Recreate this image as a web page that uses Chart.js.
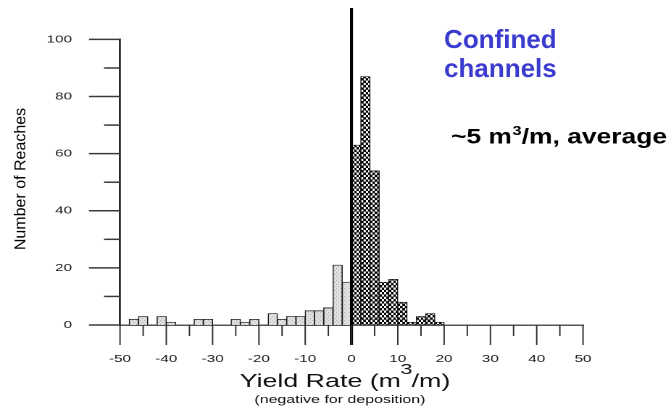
<!DOCTYPE html>
<html>
<head>
<meta charset="utf-8">
<script src="https://cdn.jsdelivr.net/npm/chart.js@4"></script>
<style>
html, body { margin: 0; padding: 0; background: #fff; overflow: hidden; }
#wrap { position: relative; width: 671px; height: 409px; overflow: hidden; }
#c { position: absolute; left: 0; top: 0; transform-origin: 0 0; transform: scaleX(1.449244); }
</style>
</head>
<body>
<div id="wrap"><canvas id="c" width="463" height="409"></canvas></div>
<script>
// ---- data ----
const binWidth = 2;                       // m3/m per histogram bin
const depositionBinStarts = [-48, -46, -42, -40, -34, -32, -26, -24, -22, -18, -16, -14, -12, -10, -8, -6, -4, -2];
const depositionCounts    = [  2,   3,   3,   1,   2,   2,   2,   1,   2,   4,   2,   3,   3,   5,  5,  6, 21, 15];
const yieldBinStarts      = [ 0,  2,  4,  6,  8, 10, 12, 14, 16, 18];
const yieldCounts         = [63, 87, 54, 15, 16,  8,  1,  3,  4,  1];
const xRange = [-50, 50];
const yRange = [0, 100];
const xTitleParts = ['Yield Rate (m', '3', '/m)'];
const xSubtitle = '(negative for deposition)';
const yTitle = 'Number of Reaches';
const noteTitle = ['Confined', 'channels'];
const noteAverage = ['~5 m', '3', '/m, average'];

// ---- rendering ----
const S = 671 / 463;        // horizontal stretch of the original figure
const FONT = '"Liberation Sans", Arial, Helvetica, sans-serif';
const canvas = document.getElementById('c');
const ctx0 = canvas.getContext('2d');

function makeHatch() {
  const c = document.createElement('canvas');
  c.width = 40; c.height = 40;
  const g = c.getContext('2d');
  g.fillStyle = '#000'; g.fillRect(0, 0, 40, 40);
  g.fillStyle = '#fff';
  g.fillRect(0.5, 0.5, 19, 19); g.fillRect(20.5, 20.5, 19, 19);
  const p = ctx0.createPattern(c, 'repeat');
  p.setTransform(new DOMMatrix([4.6 / S / 40, 0, 0, 4.6 / 40, 0, 0]));
  return p;
}
function makeStipple() {
  const c = document.createElement('canvas');
  c.width = 4; c.height = 4;
  const g = c.getContext('2d');
  g.fillStyle = '#e3e3e3'; g.fillRect(0, 0, 4, 4);
  g.fillStyle = '#9c9c9c'; g.fillRect(0, 0, 1, 1); g.fillRect(2, 2, 1, 1);
  const p = ctx0.createPattern(c, 'repeat');
  p.setTransform(new DOMMatrix([1 / S, 0, 0, 1, 0, 0]));
  return p;
}

const decor = {
  id: 'decor',
  afterDatasetsDraw(chart) {
    const ctx = chart.ctx, xs = chart.scales.x;
    const x0 = xs.getPixelForValue(0);
    ctx.save();
    ctx.strokeStyle = '#000';
    ctx.lineWidth = 3 / S;
    ctx.beginPath(); ctx.moveTo(x0, 8); ctx.lineTo(x0, 345); ctx.stroke();
    ctx.restore();
  },
  afterDraw(chart) {
    const ctx = chart.ctx, xs = chart.scales.x, ys = chart.scales.y;
    const area = chart.chartArea;
    ctx.save();
    // x tick marks
    ctx.strokeStyle = '#2e2e2e';
    ctx.lineWidth = 1.4 / S;
    xs.ticks.forEach(t => {
      const px = xs.getPixelForValue(t.value);
      const len = (t.value % 10 === 0) ? 20 : 11;
      ctx.beginPath(); ctx.moveTo(px, area.bottom); ctx.lineTo(px, area.bottom + len); ctx.stroke();
    });
    // y tick marks
    ctx.strokeStyle = '#3a3a3a';
    ctx.lineWidth = 1.5;
    ys.ticks.forEach(t => {
      const py = ys.getPixelForValue(t.value);
      const len = (t.value % 20 === 0) ? 31 / S : 16 / S;
      ctx.beginPath(); ctx.moveTo(area.left - len, py); ctx.lineTo(area.left, py); ctx.stroke();
    });
    // x axis title (stretched like the chart)
    ctx.fillStyle = '#111';
    ctx.textBaseline = 'alphabetic';
    ctx.textAlign = 'left';
    const bigF = '18.5px ' + FONT, supF = '15px ' + FONT;
    ctx.font = bigF; const wa = ctx.measureText(xTitleParts[0]).width, wc = ctx.measureText(xTitleParts[2]).width;
    ctx.font = supF; const wb = ctx.measureText(xTitleParts[1]).width;
    const cx = (area.left + area.right) / 2 - 5;
    let x = cx - (wa + wb + wc) / 2 + 1;
    ctx.font = bigF; ctx.fillText(xTitleParts[0], x, 387); x += wa - 0.5;
    ctx.font = supF; ctx.fillText(xTitleParts[1], x, 374); x += wb - 0.5;
    ctx.font = bigF; ctx.fillText(xTitleParts[2], x, 387);
    ctx.font = '11px ' + FONT;
    ctx.textAlign = 'center';
    ctx.fillText(xSubtitle, cx - 3, 403);

    // texts not stretched like the chart body
    ctx.scale(1 / S, 1);
    ctx.textAlign = 'left';
    ctx.fillStyle = '#3b3bcf';
    ctx.font = 'bold 26px ' + FONT;
    ctx.fillText(noteTitle[0], 444, 48);
    ctx.fillText(noteTitle[1], 444, 77);
    // average note: slightly widened text
    ctx.save();
    ctx.fillStyle = '#000';
    const nF = 'bold 21px ' + FONT, nS = 'bold 13px ' + FONT;
    ctx.font = nF;
    const w0 = ctx.measureText(noteAverage[0]).width, w2 = ctx.measureText(noteAverage[2]).width;
    ctx.font = nS;
    const w1 = ctx.measureText(noteAverage[1]).width;
    const k = 216 / (w0 + w1 + w2 + 0.5);
    ctx.translate(451, 0);
    ctx.scale(k, 1);
    let nx = 0;
    ctx.font = nF; ctx.fillText(noteAverage[0], nx, 143.5); nx += w0 + 0.5;
    ctx.font = nS; ctx.fillText(noteAverage[1], nx, 135); nx += w1;
    ctx.font = nF; ctx.fillText(noteAverage[2], nx, 143.5);
    ctx.restore();
    // y title
    ctx.translate(25, 179);
    ctx.rotate(-Math.PI / 2);
    ctx.textAlign = 'center';
    ctx.fillStyle = '#000';
    ctx.font = '16px ' + FONT;
    ctx.fillText(yTitle, 0, 0);
    ctx.restore();
  }
};

const barCommon = { grouped: false, categoryPercentage: 1, barPercentage: 1, borderColor: '#1c1c1c', borderWidth: 0.8 };

new Chart(canvas, {
  type: 'bar',
  data: {
    datasets: [
      Object.assign({
        label: 'Deposition',
        data: depositionBinStarts.map((s, i) => ({ x: s + binWidth / 2, y: depositionCounts[i] })),
        backgroundColor: makeStipple()
      }, barCommon),
      Object.assign({
        label: 'Yield',
        data: yieldBinStarts.map((s, i) => ({ x: s + binWidth / 2, y: yieldCounts[i] })),
        backgroundColor: makeHatch()
      }, barCommon)
    ]
  },
  options: {
    responsive: false,
    devicePixelRatio: 2,
    animation: false,
    events: [],
    layout: { padding: { top: 37.5, right: 463 - 583 / S, left: 0, bottom: 0 } },
    plugins: { legend: { display: false }, tooltip: { enabled: false } },
    scales: {
      x: {
        type: 'linear', offset: false, min: xRange[0], max: xRange[1],
        grid: { display: false, drawTicks: false },
        border: { display: true, color: '#555', width: 1.5 },
        ticks: {
          stepSize: 5, autoSkip: false, maxRotation: 0, minRotation: 0, padding: 28,
          color: '#1a1a1a', font: { family: FONT, size: 10.5 },
          callback: v => (v % 10 === 0 ? String(v) : '')
        },
        afterFit: s => { s.height = 409 - 325; }
      },
      y: {
        min: yRange[0], max: yRange[1],
        grid: { display: false, drawTicks: false },
        border: { display: true, color: '#2a2a2a', width: 1.4 },
        ticks: {
          stepSize: 10, autoSkip: false, padding: 120 / S - 72 / S,
          color: '#1a1a1a', font: { family: FONT, size: 10.5 },
          callback: v => (v % 20 === 0 ? String(v) : '')
        },
        afterFit: s => { s.width = 120 / S; }
      }
    }
  },
  plugins: [decor]
});
</script>
</body>
</html>
